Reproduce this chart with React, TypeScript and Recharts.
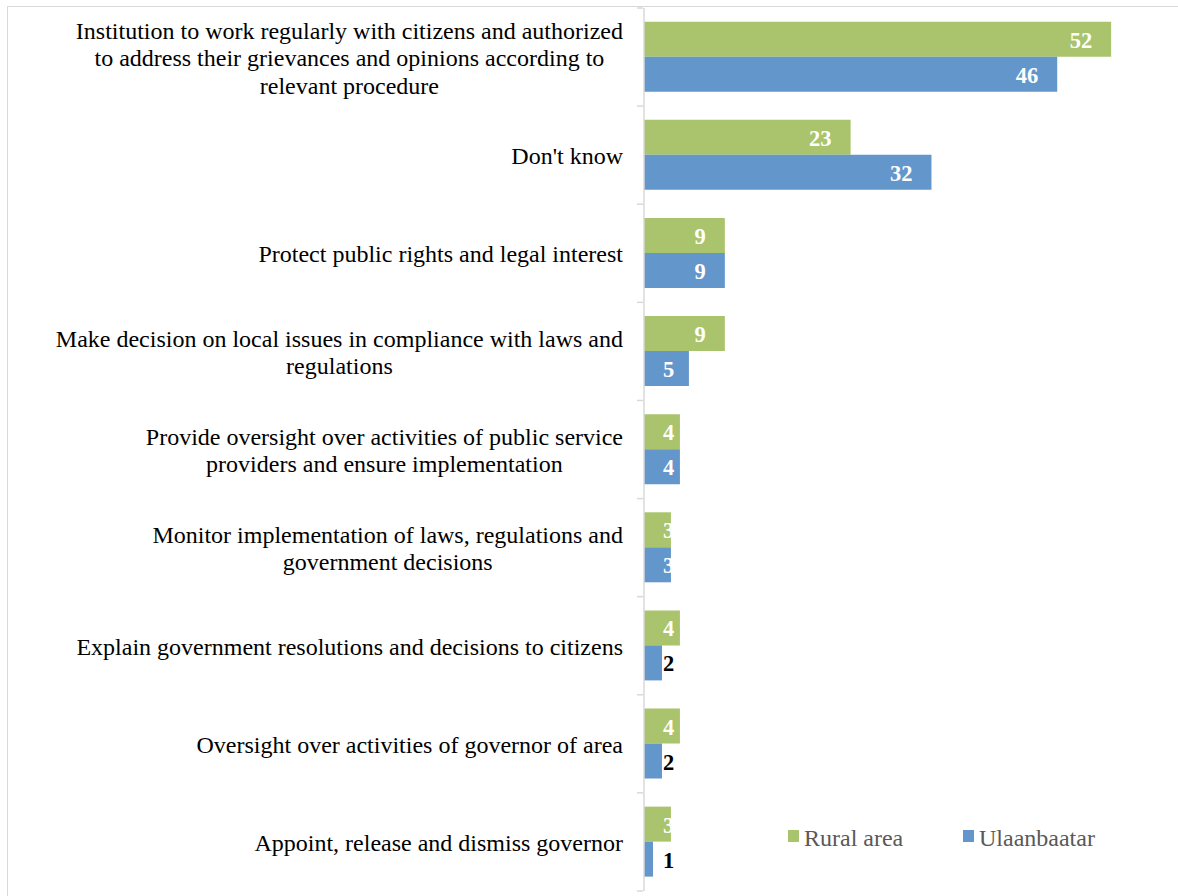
import React from 'react';
import { BarChart, Bar, XAxis, YAxis, LabelList } from 'recharts';

const categories: string[] = [
  'Institution to work regularly with citizens and authorized\nto address their grievances and opinions according to\nrelevant procedure',
  "Don't know",
  'Protect public rights and legal interest',
  'Make decision on local issues in compliance with laws and\nregulations',
  'Provide oversight over activities of public service\nproviders and ensure implementation',
  'Monitor implementation of laws, regulations and\ngovernment decisions',
  'Explain government resolutions and decisions to citizens',
  'Oversight over activities of governor of area',
  'Appoint, release and dismiss governor',
];
const rural: number[] = [52, 23, 9, 9, 4, 3, 4, 4, 3];
const ulaanbaatar: number[] = [46, 32, 9, 5, 4, 3, 2, 2, 1];
const seriesNames: string[] = ['Rural area', 'Ulaanbaatar'];

const data = categories.map((c, i) => ({ cat: c, rural: rural[i], ub: ulaanbaatar[i] }));

const GREEN = '#A9C46C';
const BLUE = '#6396CB';
const AXIS = '#D9D9D9';
const SERIF = '"Liberation Serif", "Times New Roman", serif';

const CHART_W = 1183;
const CHART_H = 896;
const M_TOP = 8;
const M_BOTTOM = 5;
const Y_W = 644;
const BAND = (CHART_H - M_TOP - M_BOTTOM) / categories.length;

let ctx: CanvasRenderingContext2D | null = null;
function measure(text: string, font: string): number {
  if (!ctx) {
    const c = document.createElement('canvas');
    ctx = c.getContext('2d');
  }
  if (!ctx) return text.length * 10;
  ctx.font = font;
  return ctx.measureText(text).width;
}

const LABEL_FONT = 24;
const LINE_H = 27.5;

const CatTick = (props: any) => {
  const { y, payload, index } = props;
  const lines: string[] = String(payload.value).split('\n');
  const font = `${LABEL_FONT}px ${SERIF}`;
  const maxW = Math.max(...lines.map((l) => measure(l, font)));
  const right = Y_W - 21;
  const cx = right - maxW / 2;
  const startY = y - ((lines.length - 1) * LINE_H) / 2 + 1;
  const axisX = Y_W - 1;
  return (
    <g>
      <line x1={axisX - 6} x2={axisX} y1={y - BAND / 2} y2={y - BAND / 2} stroke={AXIS} strokeWidth={1.5} />
      {index === categories.length - 1 && (
        <line x1={axisX - 6} x2={axisX} y1={y + BAND / 2} y2={y + BAND / 2} stroke={AXIS} strokeWidth={1.5} />
      )}
      <text textAnchor="middle" fontFamily={SERIF} fontSize={LABEL_FONT} fill="#000">
        {lines.map((l, i) => (
          <tspan key={i} x={cx} y={startY + i * LINE_H} dominantBaseline="central">
            {l}
          </tspan>
        ))}
      </text>
    </g>
  );
};

const VAL_FONT = 22.5;
const ValueLabel = (props: any) => {
  const { x, y, width, height, value } = props;
  const font = `bold ${VAL_FONT}px ${SERIF}`;
  const tw = measure(String(value), font);
  const barEnd = x + width;
  const start = Math.max(barEnd - 19 - tw, x + 19);
  const inside = value >= 3;
  return (
    <text
      x={start}
      y={y + height / 2 + 1}
      textAnchor="start"
      dominantBaseline="central"
      fontFamily={SERIF}
      fontWeight="bold"
      fontSize={VAL_FONT}
      fill={inside ? '#FFFFFF' : '#000000'}
    >
      {value}
    </text>
  );
};

const LegendBox = () => {
  const items = [
    { name: seriesNames[0], color: GREEN, left: 0 },
    { name: seriesNames[1], color: BLUE, left: 175 },
  ];
  return (
    <div style={{ position: 'absolute', left: 788, top: 824, width: 340, height: 28 }}>
      {items.map((it) => (
        <div
          key={it.name}
          style={{ position: 'absolute', left: it.left, top: 0, display: 'flex', alignItems: 'center', whiteSpace: 'nowrap', height: 28 }}
        >
          <span style={{ display: 'inline-block', width: 11, height: 12, background: it.color, marginRight: 5, marginTop: -4 }} />
          <span style={{ fontFamily: SERIF, fontSize: 24, color: '#595959', lineHeight: '28px' }}>{it.name}</span>
        </div>
      ))}
    </div>
  );
};

export default function App() {
  return (
    <div style={{ position: 'fixed', left: 0, top: 0, width: 1178, height: 896, overflow: 'hidden', background: '#fff' }}>
      <div
        style={{
          position: 'absolute',
          left: 7,
          top: 6,
          width: 1200,
          height: 1000,
          borderLeft: `1.5px solid ${AXIS}`,
          borderTop: `1.5px solid ${AXIS}`,
          boxSizing: 'border-box',
        }}
      />
      <div style={{ position: 'absolute', left: 0, top: 0 }}>
        <BarChart
          width={CHART_W}
          height={CHART_H}
          data={data}
          layout="vertical"
          margin={{ top: M_TOP, right: 0, bottom: M_BOTTOM, left: 0 }}
          barCategoryGap="14%"
          barGap={0}
        >
          <XAxis type="number" domain={[0, 60]} hide />
          <YAxis
            type="category"
            dataKey="cat"
            width={Y_W}
            axisLine={{ stroke: AXIS, strokeWidth: 1.5 }}
            tickLine={false}
            tick={<CatTick />}
            interval={0}
          />
          <Bar dataKey="rural" name={seriesNames[0]} fill={GREEN} isAnimationActive={false}>
            <LabelList dataKey="rural" content={<ValueLabel />} />
          </Bar>
          <Bar dataKey="ub" name={seriesNames[1]} fill={BLUE} isAnimationActive={false}>
            <LabelList dataKey="ub" content={<ValueLabel />} />
          </Bar>
        </BarChart>
      </div>
      <LegendBox />
    </div>
  );
}
